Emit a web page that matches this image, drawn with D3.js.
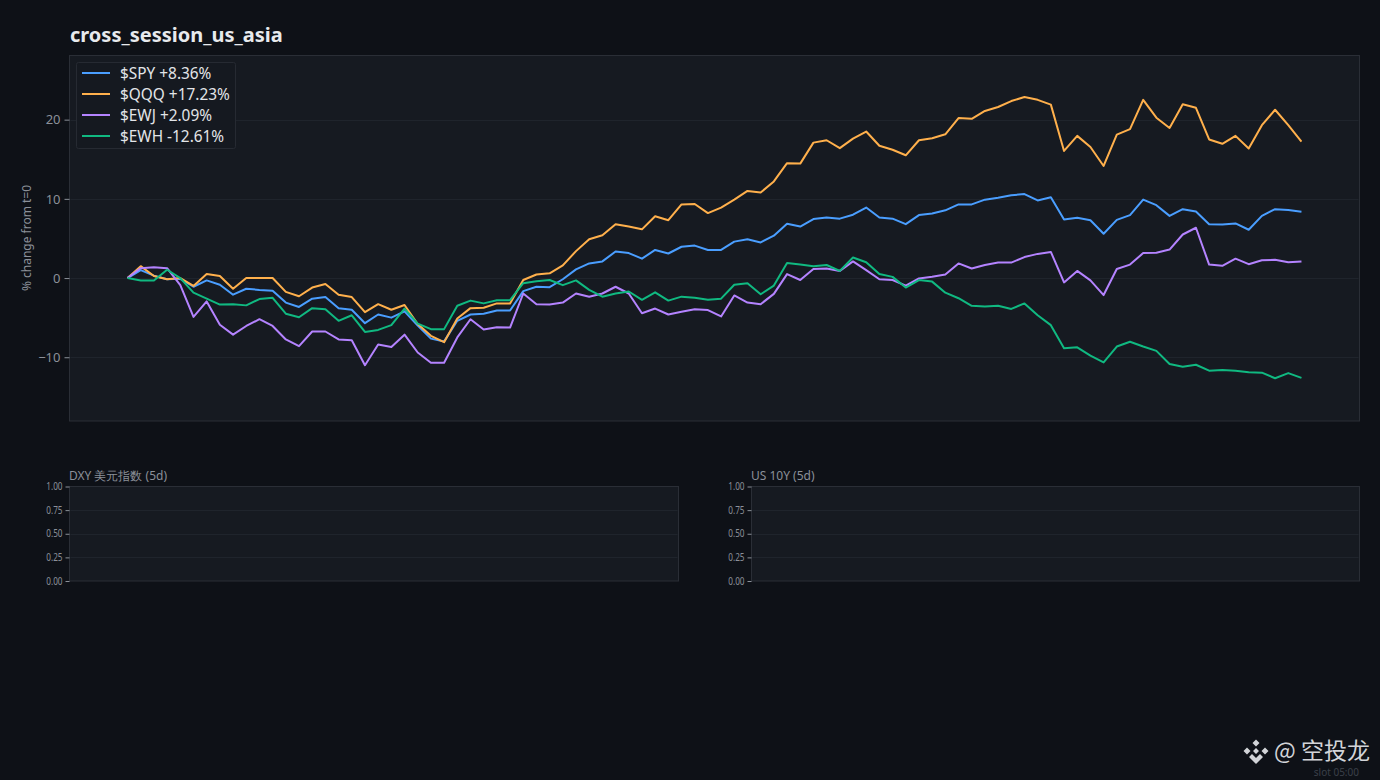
<!DOCTYPE html>
<html><head><meta charset="utf-8">
<script src="https://cdn.jsdelivr.net/npm/d3@7"></script>
<style>
html,body{margin:0;padding:0;background:#0e1117;}
svg{display:block;}
</style></head>
<body>
<svg id="chart" width="1380" height="780"></svg>
<script>
const tickers = ["$SPY", "$QQQ", "$EWJ", "$EWH"];
const colors = ["#4a9eff", "#ffb04c", "#b483ff", "#10b981"];
const spy = [0,1.0,0.3,-0.15,-0.1,-1.1,-0.3,-0.85,-2.1,-1.35,-1.5,-1.6,-3.1,-3.65,-2.6,-2.4,-3.8,-4.0,-5.7,-4.6,-5.0,-4.2,-6.0,-7.65,-8.0,-5.4,-4.6,-4.5,-4.1,-4.1,-1.65,-1.1,-1.15,-0.15,1.1,1.85,2.1,3.35,3.15,2.45,3.55,3.1,3.95,4.1,3.55,3.55,4.6,4.9,4.5,5.35,6.85,6.5,7.45,7.65,7.5,8.0,8.9,7.65,7.5,6.8,7.95,8.15,8.55,9.3,9.3,9.9,10.15,10.45,10.6,9.8,10.2,7.4,7.6,7.3,5.6,7.35,7.95,9.9,9.2,7.85,8.7,8.4,6.8,6.75,6.9,6.1,7.85,8.7,8.6,8.36];
const qqq = [0,1.5,0.25,-0.15,0,-1.0,0.5,0.25,-1.35,0,0,0,-1.75,-2.3,-1.2,-0.75,-2.1,-2.4,-4.3,-3.3,-4.0,-3.4,-5.8,-7.3,-8.1,-5.1,-3.8,-3.75,-3.2,-3.2,-0.25,0.45,0.6,1.6,3.4,4.9,5.4,6.8,6.5,6.15,7.8,7.3,9.3,9.35,8.2,8.9,9.9,11.0,10.8,12.2,14.5,14.45,17.1,17.4,16.4,17.6,18.5,16.7,16.2,15.5,17.4,17.65,18.15,20.2,20.1,21.1,21.6,22.35,22.85,22.5,21.9,16.05,17.95,16.55,14.15,18.1,18.8,22.5,20.25,18.95,21.95,21.5,17.5,16.95,17.95,16.35,19.3,21.25,19.3,17.23];
const ewj = [0,1.25,1.35,1.25,-0.9,-4.9,-2.95,-5.9,-7.15,-6.05,-5.2,-6.05,-7.75,-8.6,-6.75,-6.75,-7.75,-7.85,-11.0,-8.4,-8.7,-7.15,-9.4,-10.7,-10.7,-7.5,-5.2,-6.5,-6.2,-6.25,-1.95,-3.3,-3.35,-3.1,-1.95,-2.35,-1.95,-1.1,-1.95,-4.45,-3.85,-4.6,-4.25,-3.95,-4.05,-4.85,-2.2,-3.1,-3.3,-2.0,0.5,-0.25,1.15,1.2,0.9,2.1,1.0,-0.15,-0.25,-0.95,-0.05,0.15,0.45,1.85,1.2,1.65,1.95,1.95,2.65,3.05,3.3,-0.55,0.9,-0.3,-2.15,1.15,1.7,3.15,3.2,3.6,5.5,6.35,1.7,1.55,2.45,1.75,2.25,2.3,2.0,2.09];
const ewh = [0,-0.3,-0.3,1.05,0,-1.85,-2.6,-3.35,-3.3,-3.45,-2.65,-2.5,-4.5,-4.95,-3.8,-3.95,-5.4,-4.7,-6.8,-6.55,-5.95,-3.85,-5.75,-6.45,-6.45,-3.5,-2.85,-3.2,-2.8,-2.8,-0.65,-0.4,-0.25,-0.9,-0.3,-1.5,-2.35,-1.95,-1.7,-2.75,-1.8,-2.85,-2.35,-2.5,-2.75,-2.6,-0.85,-0.65,-2.05,-0.95,1.9,1.7,1.5,1.65,0.9,2.6,2.0,0.5,0.15,-1.2,-0.25,-0.45,-1.85,-2.55,-3.5,-3.6,-3.5,-3.9,-3.2,-4.7,-5.95,-8.85,-8.75,-9.8,-10.65,-8.65,-8.05,-8.65,-9.2,-10.85,-11.2,-10.95,-11.7,-11.6,-11.7,-11.9,-11.95,-12.65,-12.0,-12.61];
const seriesValues = [spy, qqq, ewj, ewh];
const yTicks = [-10, 0, 10, 20];
const smallTicks = [0, 0.25, 0.5, 0.75, 1];
const title = "cross_session_us_asia";
const yLabel = "% change from t=0";
const panelTitles = ["DXY 美元指数 (5d)", "US 10Y (5d)"];

const svg = d3.select("#chart");
const FONT = "'Noto Sans', 'Open Sans', sans-serif";
const panelFill = "#161a21", panelStroke = "#2a2e36", tickCol = "#8b9099";

// Title
svg.append("text").attr("x", 70).attr("y", 42).text(title)
  .attr("font-family", FONT).attr("font-weight", 700).attr("font-size", 20).attr("fill", "#e8eaed");

// Main panel
const M = {left: 69.5, top: 55.5, right: 1359.5, bottom: 421};
const x = d3.scaleLinear().domain([-4.4, 93.4]).range([M.left, M.right]);
const y = d3.scaleLinear().domain([-18.05, 28.1]).range([M.bottom, M.top]);

svg.append("rect").attr("x", M.left).attr("y", M.top).attr("width", M.right - M.left).attr("height", M.bottom - M.top)
  .attr("fill", panelFill).attr("stroke", panelStroke).attr("stroke-width", 1);

// grid
svg.append("g").selectAll("line").data(yTicks).join("line")
  .attr("x1", M.left + 1).attr("x2", M.right - 1)
  .attr("y1", d => Math.round(y(d)) + 0.5).attr("y2", d => Math.round(y(d)) + 0.5)
  .attr("stroke", "#1f242c").attr("stroke-width", 1);

const yAxis = svg.append("g").attr("transform", `translate(${M.left},0)`)
  .call(d3.axisLeft(y).tickValues(yTicks).tickSize(5).tickPadding(4).tickFormat(d3.format("d")));
yAxis.select(".domain").remove();
yAxis.selectAll("line").attr("stroke", tickCol);
yAxis.selectAll("text").attr("fill", tickCol).attr("font-family", FONT).attr("font-size", 13);

svg.append("text").attr("transform", `translate(31,238) rotate(-90)`).attr("text-anchor", "middle")
  .attr("font-family", FONT).attr("font-size", 12).attr("fill", tickCol).text(yLabel);

// lines
const line = d3.line().x((d, i) => x(i)).y(d => y(d));
const clipId = "clipMain";
svg.append("clipPath").attr("id", clipId).append("rect")
  .attr("x", M.left).attr("y", M.top).attr("width", M.right - M.left).attr("height", M.bottom - M.top);
svg.append("g").attr("clip-path", `url(#${clipId})`).selectAll("path").data(seriesValues).join("path")
  .attr("d", d => line(d)).attr("fill", "none")
  .attr("stroke", (d, i) => colors[i]).attr("stroke-width", 2).attr("stroke-linejoin", "round");

// legend
const lg = svg.append("g");
lg.append("rect").attr("x", 76.5).attr("y", 62.5).attr("width", 159).attr("height", 86).attr("rx", 2)
  .attr("fill", "#151920").attr("stroke", "#262a32");
const fmt = v => (v >= 0 ? "+" : "") + v.toFixed(2) + "%";
const items = lg.selectAll("g.item").data(tickers).join("g").attr("class", "item")
  .attr("transform", (d, i) => `translate(0,${73 + i * 21})`);
items.append("line").attr("x1", 82).attr("x2", 110).attr("y1", 0).attr("y2", 0)
  .attr("stroke", (d, i) => colors[i]).attr("stroke-width", 2);
items.append("text").attr("x", 120).attr("y", 5.5).attr("font-family", FONT).attr("font-size", 15.4)
  .attr("fill", "#e3e5e8").text((d, i) => `${d} ${fmt(seriesValues[i][seriesValues[i].length - 1])}`);

// small panels
const small = [{l: 69.5, r: 678.5}, {l: 751.5, r: 1359.5}];
small.forEach((p, k) => {
  const sy = d3.scaleLinear().domain([0, 1]).range([581, 486.5]);
  svg.append("rect").attr("x", p.l).attr("y", 486.5).attr("width", p.r - p.l).attr("height", 581 - 486.5)
    .attr("fill", panelFill).attr("stroke", panelStroke);
  svg.append("g").selectAll("line").data(smallTicks.slice(1, 4)).join("line")
    .attr("x1", p.l + 1).attr("x2", p.r - 1)
    .attr("y1", d => Math.round(sy(d)) + 0.5).attr("y2", d => Math.round(sy(d)) + 0.5)
    .attr("stroke", "#1f242c");
  const ax = svg.append("g").attr("transform", `translate(${p.l},0)`)
    .call(d3.axisLeft(sy).tickValues(smallTicks).tickSize(4).tickPadding(3).tickFormat(d3.format(".2f")));
  ax.select(".domain").remove();
  ax.selectAll("line").attr("stroke", tickCol);
  ax.selectAll("text").attr("fill", tickCol).attr("font-family", FONT).attr("font-size", 10)
    .attr("transform", "scale(0.82,1)").attr("x", -7 / 0.82);
  svg.append("text").attr("x", p.l - 0.5).attr("y", 480).attr("font-family", FONT).attr("font-size", 12)
    .attr("fill", tickCol).text(panelTitles[k]);
});

// footer slot text + watermark
svg.append("text").attr("x", 1359).attr("y", 776).attr("text-anchor", "end")
  .attr("font-family", FONT).attr("font-size", 10).attr("fill", "#3b4049").text("slot 05:00");
const wm = svg.append("g").attr("fill", "#d2d4d8");
const cx = 1256, cy = 751;
const dia = (px, py, r) => `M${px},${py - r}L${px + r},${py}L${px},${py + r}L${px - r},${py}Z`;
wm.append("path").attr("d", dia(cx, cy - 8, 3.5) + dia(cx - 9, cy, 3.5) + dia(cx + 9, cy, 3.5) + dia(cx, cy, 3));
wm.append("path").attr("d", `M${cx - 7},${cy + 6}L${cx},${cy + 13}L${cx + 7},${cy + 6}L${cx + 4},${cy + 3}L${cx},${cy + 7}L${cx - 4},${cy + 3}Z`);
wm.append("text").attr("x", 1274).attr("y", 759).attr("font-family", "'Noto Sans CJK SC', sans-serif")
  .attr("font-size", 23).text("@ 空投龙");
</script>
</body></html>
